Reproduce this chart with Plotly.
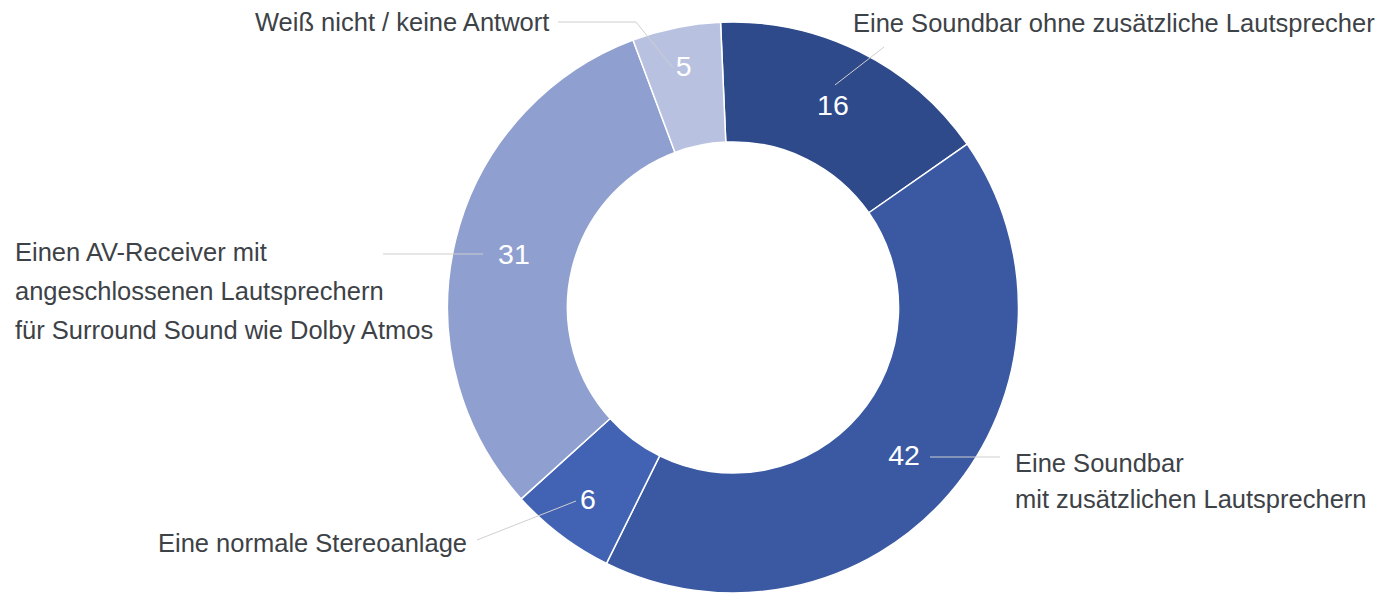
import math
import plotly.graph_objects as go

# ---------------- data ----------------
categories = [
    "Eine Soundbar ohne zusätzliche Lautsprecher",
    "Eine Soundbar mit zusätzlichen Lautsprechern",
    "Eine normale Stereoanlage",
    "Einen AV-Receiver mit angeschlossenen Lautsprechern für Surround Sound wie Dolby Atmos",
    "Weiß nicht / keine Antwort",
]
values = [16, 42, 6, 31, 5]
label_lines = [
    ["Eine Soundbar ohne zusätzliche Lautsprecher"],
    ["Eine Soundbar", "mit zusätzlichen Lautsprechern"],
    ["Eine normale Stereoanlage"],
    ["Einen AV-Receiver mit", "angeschlossenen Lautsprechern", "für Surround Sound wie Dolby Atmos"],
    ["Weiß nicht / keine Antwort"],
]
colors = ["#2E4A8A", "#3A59A2", "#4263B4", "#8F9FCF", "#B8C1E0"]

# ---------------- style / layout ----------------
W, H = 1380, 593
CX, CY, R = 733, 307.5, 285.5
ROTATION = -2.5
HOLE = 0.58
TEXT_COLOR = "#3d4247"
LEADER_COLOR = "#cfcfcf"
FONT = "Arial, Liberation Sans, sans-serif"

# leader-line points (px), label anchor x (px), label line y's (px), anchor side
label_style = [
    dict(path=[(835, 85), (884, 47)], tx=1377, ty=[23], anchor="right"),
    dict(path=[(930, 457), (1000, 457)], tx=1013, ty=[463, 499], anchor="left"),
    dict(path=[(576, 501), (477, 540)], tx=469, ty=[543], anchor="right"),
    dict(path=[(483, 254), (383, 254)], tx=13, ty=[252, 291, 330], anchor="left"),
    dict(path=[(673, 68), (636, 22), (558, 22)], tx=551, ty=[22], anchor="right"),
]


def px(x, y):
    return x / W, 1 - y / H


fig = go.Figure(go.Pie(
    labels=categories,
    values=values,
    sort=False,
    direction="clockwise",
    rotation=ROTATION,
    hole=HOLE,
    marker=dict(colors=colors, line=dict(color="white", width=1.5)),
    textinfo="value",
    textposition="inside",
    insidetextorientation="horizontal",
    insidetextfont=dict(color="white", size=28.5, family=FONT),
    showlegend=False,
    domain=dict(x=[(CX - R) / W, (CX + R) / W], y=[0, 2 * R / H]),
))

shapes, annotations = [], []
for lines, st in zip(label_lines, label_style):
    pp = [px(x, y) for x, y in st["path"]]
    d = "M " + " L ".join(f"{x:.5f},{y:.5f}" for x, y in pp)
    shapes.append(dict(type="path", path=d, xref="paper", yref="paper",
                       line=dict(color=LEADER_COLOR, width=1)))
    for line, ty in zip(lines, st["ty"]):
        ax, ay = px(st["tx"], ty)
        annotations.append(dict(
            text=line, x=ax, y=ay, xref="paper", yref="paper",
            xanchor=st["anchor"], yanchor="middle", showarrow=False,
            font=dict(size=25.5, color=TEXT_COLOR, family=FONT),
        ))

fig.update_layout(
    width=W, height=H,
    margin=dict(l=0, r=0, t=0, b=0),
    paper_bgcolor="white",
    plot_bgcolor="white",
    shapes=shapes,
    annotations=annotations,
)

fig.write_html("out.html",
               config={"displayModeBar": False},
               post_script="document.body.style.margin='0';document.body.style.overflow='hidden';")
